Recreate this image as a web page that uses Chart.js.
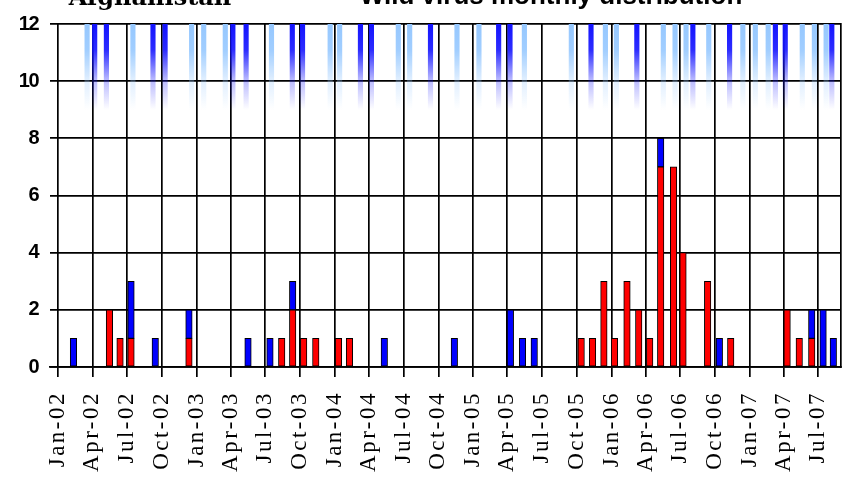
<!DOCTYPE html>
<html>
<head>
<meta charset="utf-8">
<script src="https://cdn.jsdelivr.net/npm/chart.js@4.4.1/dist/chart.umd.min.js"></script>
<style>
html, body { margin: 0; padding: 0; background: #fff; }
</style>
</head>
<body>
<canvas id="chart" width="860" height="483"></canvas>
<script>
// monthly case bars (date of bar, red and blue counts)
const caseDates = [
  "2002-02-10", "2002-05-16", "2002-06-13", "2002-07-12", "2002-09-14", "2002-12-12",
  "2003-05-17", "2003-07-14", "2003-08-14", "2003-09-12", "2003-10-11", "2003-11-12",
  "2004-01-11", "2004-02-09", "2004-05-11", "2004-11-12",
  "2005-04-09", "2005-05-11", "2005-06-11", "2005-10-13", "2005-11-12", "2005-12-12",
  "2006-01-09", "2006-02-11", "2006-03-14", "2006-04-12", "2006-05-11", "2006-06-14",
  "2006-07-09", "2006-09-12", "2006-10-13", "2006-11-12",
  "2007-04-10", "2007-05-12", "2007-06-14", "2007-07-14", "2007-08-10"
];
const redCases = [0, 2, 1, 1, 0, 1, 0, 0, 1, 2, 1, 1, 1, 1, 0, 0, 0, 0, 0, 1, 1, 3,
  1, 3, 2, 1, 7, 7, 4, 3, 0, 1, 2, 1, 1, 0, 0];
const blueCases = [1, 0, 0, 2, 1, 1, 1, 1, 0, 1, 0, 0, 0, 0, 1, 1, 2, 1, 1, 0, 0, 0,
  0, 0, 0, 0, 1, 0, 0, 0, 1, 0, 0, 0, 1, 2, 1];

// faded marks along the top of the plot
const lightStripeDates = [
  "2002-03-18", "2002-07-17", "2002-12-19", "2003-01-20", "2003-03-18", "2003-07-18",
  "2003-12-20", "2004-01-14", "2004-06-17", "2004-07-17", "2004-11-19", "2005-01-16",
  "2005-05-16", "2005-09-17", "2005-12-16", "2006-01-14", "2006-05-18", "2006-06-18",
  "2006-07-17", "2006-09-15", "2006-12-14", "2007-01-16", "2007-02-19", "2007-05-20",
  "2007-06-21", "2007-07-22"
];
const darkStripeDates = [
  "2002-04-07", "2002-05-08", "2002-09-08", "2002-10-10", "2003-04-07", "2003-05-12",
  "2003-09-11", "2003-10-08", "2004-03-09", "2004-04-07", "2004-09-10", "2005-03-09",
  "2005-04-08", "2005-11-08", "2006-03-09", "2006-08-04", "2006-11-09", "2007-03-10",
  "2007-04-05", "2007-08-06"
];

const tickLabels = [
  "Jan-02", "Apr-02", "Jul-02", "Oct-02", "Jan-03", "Apr-03", "Jul-03", "Oct-03",
  "Jan-04", "Apr-04", "Jul-04", "Oct-04", "Jan-05", "Apr-05", "Jul-05", "Oct-05",
  "Jan-06", "Apr-06", "Jul-06", "Oct-06", "Jan-07", "Apr-07", "Jul-07"
];

const DAY = 86400000;
const origin = Date.UTC(2002, 0, 1);
const monthNames = ["Jan", "Feb", "Mar", "Apr", "May", "Jun", "Jul", "Aug", "Sep", "Oct", "Nov", "Dec"];

function dayOf(s) {
  return (Date.parse(s + "T00:00:00Z") - origin) / DAY;
}
function tickDay(label) {
  const parts = label.split("-");
  return (Date.UTC(2000 + Number(parts[1]), monthNames.indexOf(parts[0]), 1) - origin) / DAY;
}

function fade(rgb) {
  return function (context) {
    const chart = context.chart;
    if (!chart.chartArea) return "rgb(" + rgb + ")";
    const y = chart.scales.y;
    const g = chart.ctx.createLinearGradient(0, y.getPixelForValue(12), 0, y.getPixelForValue(9));
    g.addColorStop(0, "rgba(" + rgb + ",1)");
    g.addColorStop(0.3, "rgba(" + rgb + ",0.9)");
    g.addColorStop(0.65, "rgba(" + rgb + ",0.3)");
    g.addColorStop(1, "rgba(" + rgb + ",0)");
    return g;
  };
}

const caseBar = {
  type: "bar",
  borderColor: "#000",
  borderWidth: 1,
  borderSkipped: false,
  barThickness: 6.5,
  grouped: false,
  stack: "cases"
};

// titles sit partly above the top of the picture
const titles = {
  id: "titles",
  afterDraw(chart) {
    const ctx = chart.ctx;
    ctx.save();
    ctx.fillStyle = "#000";
    ctx.textAlign = "center";
    ctx.textBaseline = "alphabetic";
    ctx.font = 'bold 24px "DejaVu Serif", serif';
    ctx.fillText("Afghanistan", 150, 5);
    ctx.font = 'bold 26px "Liberation Sans", Arial, sans-serif';
    ctx.fillText("Wild virus monthly distribution", 551, 4);
    ctx.restore();
  }
};

// letter spacing on the tick labels
function spaceLabels(scale, spacing) {
  if (scale._spaced) return;
  const orig = scale.drawLabels.bind(scale);
  scale.drawLabels = function (area) {
    this.ctx.save();
    this.ctx.letterSpacing = spacing;
    orig(area);
    this.ctx.restore();
  };
  scale._spaced = true;
}
const spacedLabels = {
  id: "spacedLabels",
  beforeDraw(chart) {
    spaceLabels(chart.scales.x, "2.5px");
    spaceLabels(chart.scales.y, "-1.5px");
  }
};

new Chart(document.getElementById("chart"), {
  data: {
    datasets: [
      Object.assign({}, caseBar, {
        label: "red",
        backgroundColor: "#ff0000",
        data: caseDates.map((d, i) => ({ x: dayOf(d), y: redCases[i] })).filter(p => p.y > 0)
      }),
      Object.assign({}, caseBar, {
        label: "blue",
        backgroundColor: "#0000ff",
        data: caseDates.map((d, i) => ({ x: dayOf(d), y: blueCases[i] })).filter(p => p.y > 0)
      }),
      {
        type: "bar",
        label: "light",
        backgroundColor: fade("150,200,255"),
        borderWidth: 0,
        barThickness: 4.5,
        grouped: false,
        stack: "light",
        data: lightStripeDates.map(d => ({ x: dayOf(d), y: [9, 12] }))
      },
      {
        type: "bar",
        label: "dark",
        backgroundColor: fade("20,20,255"),
        borderWidth: 0,
        barThickness: 4.5,
        grouped: false,
        stack: "dark",
        data: darkStripeDates.map(d => ({ x: dayOf(d), y: [9, 12] }))
      }
    ]
  },
  options: {
    responsive: false,
    animation: false,
    devicePixelRatio: 1,
    layout: { padding: { top: 17, right: 8, left: 0, bottom: 0 } },
    plugins: { legend: { display: false }, tooltip: { enabled: false } },
    scales: {
      x: {
        type: "linear",
        offset: false,
        min: dayOf("2001-12-10"),
        max: dayOf("2007-08-29"),
        afterBuildTicks: s => { s.ticks = tickLabels.map(l => ({ value: tickDay(l) })); },
        afterFit: s => { s.height = 116; },
        ticks: {
          autoSkip: false,
          minRotation: 90,
          maxRotation: 90,
          padding: 14,
          color: "#000",
          font: { family: '"Liberation Serif", serif', size: 23 },
          callback: (v, i) => tickLabels[i]
        },
        grid: { color: "#000", lineWidth: 1.7, tickLength: 10, drawTicks: true, offset: false },
        border: { color: "#000", width: 1.7 }
      },
      y: {
        min: 0,
        max: 12,
        stacked: true,
        afterFit: s => { s.width = 50; },
        ticks: {
          stepSize: 2,
          padding: 12,
          color: "#000",
          font: { family: '"Liberation Sans", Arial, sans-serif', size: 20, weight: "bold" }
        },
        grid: { color: "#000", lineWidth: 1.7, drawTicks: false },
        border: { display: false }
      },
      y2: {
        position: "right",
        min: 0,
        max: 12,
        afterFit: s => { s.width = 0; },
        ticks: { display: false },
        grid: { display: false },
        border: { display: true, color: "#000", width: 1.7 }
      }
    }
  },
  plugins: [titles, spacedLabels]
});
</script>
</body>
</html>
